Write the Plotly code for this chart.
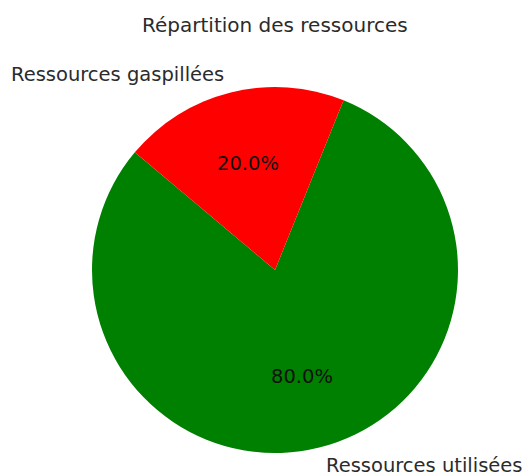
import math
import plotly.graph_objects as go

labels = ["Ressources utilisées", "Ressources gaspillées"]
values = [80, 20]
colors = ["#008000", "#ff0000"]
title_text = "Répartition des ressources"

W, H = 523, 474
start_angle = 140  # degrees, math convention (counterclockwise from +x)
dom_x = [92 / W, 458 / W]
dom_y = [1 - 453 / H, 1 - 87 / H]

total = sum(values)
# plotly's counterclockwise pies end the first slice at the rotation angle
first_end = start_angle + 360 * values[0] / total
rotation = 90 - first_end
while rotation < -360:
    rotation += 360

fig = go.Figure(go.Pie(
    labels=labels, values=values, sort=False,
    direction="counterclockwise", rotation=rotation,
    marker=dict(colors=colors, line=dict(width=0)),
    textinfo="none", hoverinfo="label+percent", showlegend=False,
    domain=dict(x=dom_x, y=dom_y),
))

# centre and radius from the domain (in pixels)
cx = (dom_x[0] + dom_x[1]) / 2 * W
cy = (1 - (dom_y[0] + dom_y[1]) / 2) * H
r = min((dom_x[1] - dom_x[0]) * W, (dom_y[1] - dom_y[0]) * H) / 2

FS = 19.5
ang = start_angle
annotations = []
for lab, v in zip(labels, values):
    span = 360 * v / total
    mid = math.radians(ang + span / 2)
    ang += span
    lx = cx + 1.1 * r * math.cos(mid)
    ly = cy - 1.1 * r * math.sin(mid)
    annotations.append(dict(
        x=lx / W, y=1 - ly / H, xref="paper", yref="paper",
        text=lab, showarrow=False,
        xanchor="left" if math.cos(mid) >= 0 else "right", yanchor="middle",
        font=dict(family="DejaVu Sans", size=FS, color="#2b2b2b"),
    ))
    px = cx + 0.6 * r * math.cos(mid)
    py = cy - 0.6 * r * math.sin(mid)
    annotations.append(dict(
        x=px / W, y=1 - py / H, xref="paper", yref="paper",
        text=f"{100 * v / total:.1f}%", showarrow=False,
        xanchor="center", yanchor="middle",
        font=dict(family="DejaVu Sans", size=FS, color="#111111"),
    ))

annotations.append(dict(
    x=275 / W, y=1 - 25 / H, xref="paper", yref="paper",
    text=title_text, showarrow=False, xanchor="center", yanchor="middle",
    font=dict(family="DejaVu Sans", size=20, color="#2b2b2b"),
))

fig.update_layout(
    width=W, height=H,
    margin=dict(l=0, r=0, t=0, b=0),
    paper_bgcolor="white", plot_bgcolor="white",
    annotations=annotations,
)

fig.write_html("out.html", config={"displayModeBar": False},
               post_script="document.body.style.margin='0';")
